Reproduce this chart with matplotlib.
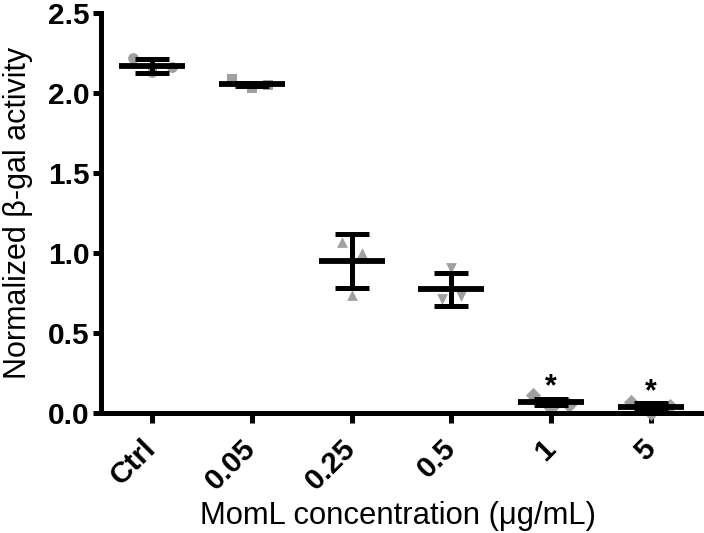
import matplotlib
matplotlib.use("Agg")
import matplotlib.pyplot as plt
import numpy as np

plt.rcParams['font.family'] = ['Liberation Sans', 'DejaVu Sans']

categories = ["Ctrl", "0.05", "0.25", "0.5", "1", "5"]
ctrl_pts = [2.22, 2.13, 2.165]
c005_pts = [2.09, 2.03, 2.05]
c025_pts = [1.07, 1.00, 0.74]
c05_pts = [0.91, 0.71, 0.73]
c1_pts = [0.11, 0.05, 0.03]
c5_pts = [0.07, 0.045, 0.0]
means = [2.17, 2.055, 0.95, 0.773, 0.07, 0.035]
errs = [0.045, 0.01, 0.17, 0.104, 0.02, 0.025]
significant = [False, False, False, False, True, True]
yticks = [0.0, 0.5, 1.0, 1.5, 2.0, 2.5]

points = [ctrl_pts, c005_pts, c025_pts, c05_pts, c1_pts, c5_pts]
jitter = [[-0.19, 0.0, 0.2], [-0.2, 0.0, 0.16], [-0.1, 0.1, 0.0],
          [0.0, -0.09, 0.1], [-0.18, 0.18, 0.0], [-0.2, 0.19, 0.0]]
markers = ['o', 's', '^', 'v', 'D', 'D']

fig = plt.figure(figsize=(7.04, 5.33), dpi=100)
ax = fig.add_axes([101/704, (533-413)/533, 1-101/704, (413-13.3)/533])

gray = '#a0a0a0'
for i, (pts, jit, m) in enumerate(zip(points, jitter, markers)):
    ax.scatter(np.array(jit) + i, pts, marker=m, s=60, color=gray, zorder=2,
               linewidths=0, clip_on=False)

x = np.arange(len(categories))
ax.hlines(means, x - 0.33, x + 0.33, color='black', linewidth=4.2, zorder=3)
ax.errorbar(x, means, yerr=errs, fmt='none', ecolor='black', elinewidth=3.6,
            capsize=12, capthick=3.6, zorder=3)

for i, sig in enumerate(significant):
    if sig:
        ax.text(i, means[i] + errs[i] - 0.025, "*", ha='center', va='bottom',
                fontsize=22, fontweight='bold')

ax.set_xlim(-0.51, 5.53)
ax.set_ylim(0, 2.5)
ax.set_yticks(yticks)
ax.set_yticklabels([f"{v:.1f}" for v in yticks], fontsize=21.5, fontweight='bold')
ax.set_xticks(x)
ax.set_xticklabels(categories, fontsize=21.5, fontweight='bold', rotation=45,
                   ha='right', va='center', rotation_mode='anchor')

for s in ['top', 'right']:
    ax.spines[s].set_visible(False)
for s in ['left', 'bottom']:
    ax.spines[s].set_linewidth(3.6)
ax.tick_params(axis='y', width=3.6, length=6, pad=2)
ax.tick_params(axis='x', width=3.6, length=7.5, pad=15)

ax.set_ylabel("Normalized β-gal activity", fontsize=22, labelpad=11)
ax.set_xlabel("MomL concentration (μg/mL)", fontsize=22.3, va='top')
ax.xaxis.set_label_coords(0.492, -0.220)

fig.savefig("out.png", dpi=100)
